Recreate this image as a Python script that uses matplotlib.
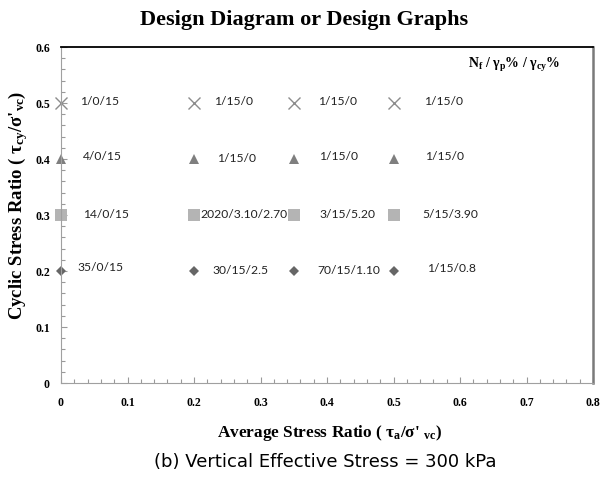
import matplotlib
matplotlib.use("Agg")
import matplotlib.pyplot as plt
from matplotlib.ticker import MultipleLocator

# Data
x_pos = [0.0, 0.2, 0.35, 0.5]
rows = {
    0.5: ["1/0/15", "1/15/0", "1/15/0", "1/15/0"],
    0.4: ["4/0/15", "1/15/0", "1/15/0", "1/15/0"],
    0.3: ["14/0/15", "2020/3.10/2.70", "3/15/5.20", "5/15/3.90"],
    0.2: ["35/0/15", "30/15/2.5", "70/15/1.10", "1/15/0.8"],
}
label_x = {
    0.5: [0.029, 0.230, 0.386, 0.546],
    0.4: [0.033, 0.235, 0.388, 0.547],
    0.3: [0.033, 0.209, 0.388, 0.544],
    0.2: [0.025, 0.228, 0.386, 0.550],
}
label_y = {
    0.5: [0.503, 0.502, 0.502, 0.502],
    0.4: [0.404, 0.400, 0.404, 0.405],
    0.3: [0.300, 0.301, 0.301, 0.300],
    0.2: [0.207, 0.200, 0.201, 0.204],
}
styles = {
    0.5: dict(marker="x", color="#8c8c8c", ms=8, mew=1.0),
    0.4: dict(marker="^", color="#7f7f7f", ms=7, mew=0),
    0.3: dict(marker="s", color="#b4b4b4", ms=8, mew=0),
    0.2: dict(marker="D", color="#666666", ms=5, mew=0),
}

serif = ["Liberation Serif", "DejaVu Serif"]

matplotlib.rcParams["mathtext.fontset"] = "custom"
matplotlib.rcParams["mathtext.rm"] = "Liberation Serif:bold"
matplotlib.rcParams["mathtext.it"] = "Liberation Serif:bold"
matplotlib.rcParams["mathtext.bf"] = "Liberation Serif:bold"

fig = plt.figure(figsize=(6.04, 4.8), dpi=100)
ax = fig.add_axes([61/604, 1-383/480, (593-61)/604, (383-47)/480])

for y, labs in rows.items():
    ax.plot(x_pos, [y]*len(x_pos), linestyle="none", clip_on=False, **styles[y])
    for lx, ly, t in zip(label_x[y], label_y[y], labs):
        ax.text(lx, ly, t, fontsize=8.7, family="Lato", va="center", ha="left", color="#222222")

ax.set_xlim(0, 0.8)
ax.set_ylim(0, 0.6)
ax.xaxis.set_major_locator(MultipleLocator(0.1))
ax.xaxis.set_minor_locator(MultipleLocator(0.02))
ax.yaxis.set_major_locator(MultipleLocator(0.1))
ax.yaxis.set_minor_locator(MultipleLocator(0.02))
fmt = plt.FuncFormatter(lambda v, p: "0" if abs(v) < 1e-9 else f"{v:.1f}")
ax.xaxis.set_major_formatter(fmt)
ax.yaxis.set_major_formatter(fmt)
ax.tick_params(which="both", direction="in", colors="#999999", labelcolor="black",
               labelsize=8.5)
ax.tick_params(which="major", length=4, width=0.8)
ax.tick_params(which="minor", length=3, width=0.8)
ax.tick_params(axis="x", pad=10)
ax.tick_params(axis="y", pad=8)
for lab in ax.get_xticklabels() + ax.get_yticklabels():
    lab.set_family(serif)
    lab.set_fontweight("bold")

ax.spines["top"].set_color("black")
ax.spines["top"].set_linewidth(1.3)
ax.spines["right"].set_color("#7a7a7a")
ax.spines["right"].set_linewidth(1.8)
ax.spines["left"].set_color("#a0a0a0")
ax.spines["bottom"].set_color("#a0a0a0")

ax.text(0.612, 0.568, r"N$_\mathregular{f}$ / γ$_\mathregular{p}$% / γ$_\mathregular{cy}$%",
        fontsize=10, family=serif, fontweight="bold", ha="left", va="center")

fig.text(304/604, 1-20/480, "Design Diagram or Design Graphs", fontsize=16, family=serif,
         fontweight="bold", ha="center", va="center")
fig.text(18/604, 1-205/480, r"Cyclic Stress Ratio ( τ$_\mathregular{cy}$/σ'$_\mathregular{vc}$)",
         fontsize=13.5, family=serif, fontweight="bold", rotation=90, ha="center", va="center")
fig.text(330/604, 1-433/480, r"Average Stress Ratio ( τ$_\mathregular{a}$/σ' $_\mathregular{vc}$)",
         fontsize=12.4, family=serif, fontweight="bold", ha="center", va="center")
fig.text(325/604, 1-462/480, "(b) Vertical Effective Stress = 300 kPa", fontsize=13,
         family=["DejaVu Sans"], ha="center", va="center")

fig.savefig("out.png", dpi=100)
